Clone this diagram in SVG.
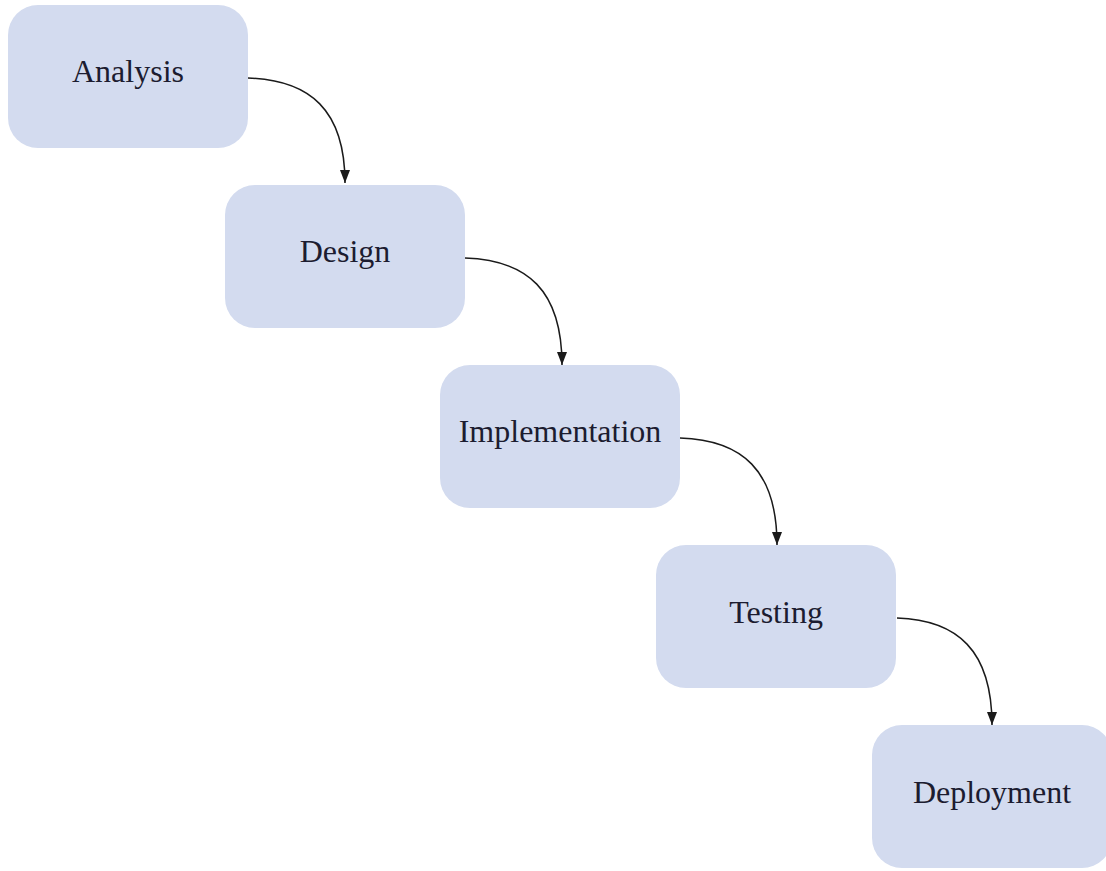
<svg xmlns="http://www.w3.org/2000/svg" width="1106" height="871" viewBox="0 0 1106 871">
<style>
.box{fill:#d3dbef}
.lbl{font-family:"Liberation Serif",serif;font-size:32px;fill:#1c1c30;text-anchor:middle}
.edge{fill:none;stroke:#1a1a1a;stroke-width:1.5}
</style>
<defs>
<marker id="ah" markerUnits="userSpaceOnUse" markerWidth="14" markerHeight="10" refX="13" refY="5" orient="auto" viewBox="0 0 14 10">
<path d="M0,0 L13,5 L0,10 Z" fill="#1a1a1a"/>
</marker>
</defs>
<rect width="1106" height="871" fill="#ffffff"/>
<g id="analysis"><rect class="box" x="8" y="5" width="240" height="143" rx="30"/><text class="lbl" x="128" y="82">Analysis</text></g>
<g id="design"><rect class="box" x="225" y="185" width="240" height="143" rx="30"/><text class="lbl" x="345" y="262">Design</text></g>
<g id="implementation"><rect class="box" x="440" y="365" width="240" height="143" rx="30"/><text class="lbl" x="560" y="442">Implementation</text></g>
<g id="testing"><rect class="box" x="656" y="545" width="240" height="143" rx="30"/><text class="lbl" x="776" y="623">Testing</text></g>
<g id="deployment"><rect class="box" x="872" y="725" width="240" height="143" rx="30"/><text class="lbl" x="992" y="803">Deployment</text></g>
<g id="connectors">
<path class="edge" marker-end="url(#ah)" d="M248,78 C310,80 345,110 345,183"/>
<path class="edge" marker-end="url(#ah)" d="M465,258 C527,260 562,290 562,365"/>
<path class="edge" marker-end="url(#ah)" d="M680,438 C742,440 777,470 777,545"/>
<path class="edge" marker-end="url(#ah)" d="M897,618 C957,620 992,650 992,725"/>
</g>
</svg>
